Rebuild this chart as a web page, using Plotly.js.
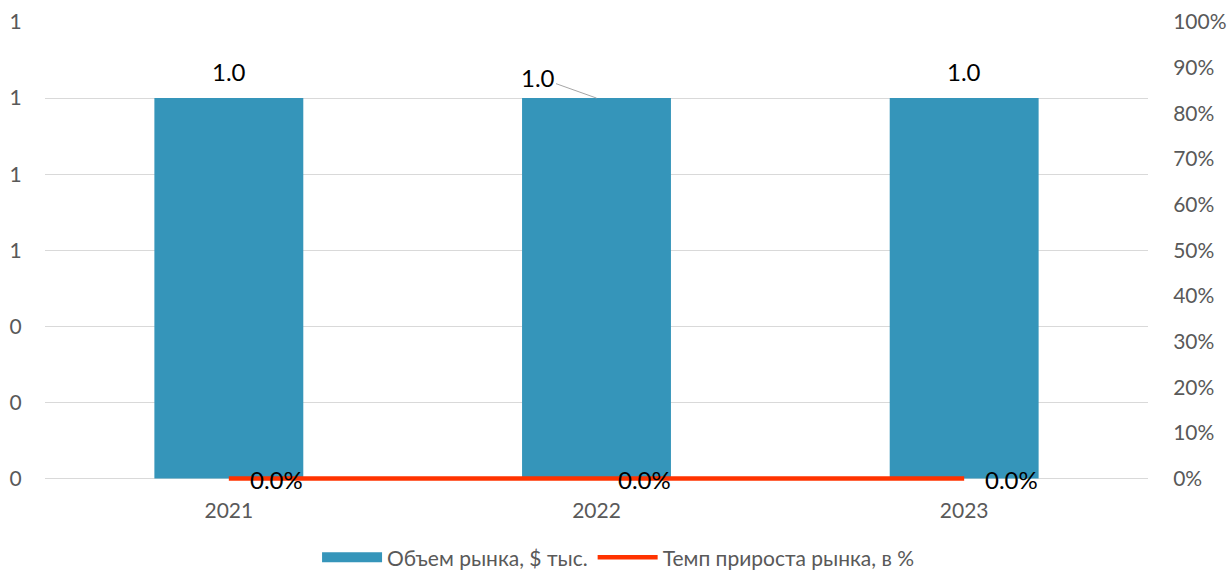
<!DOCTYPE html>
<html>
<head>
<meta charset="utf-8">
<script src="https://cdn.plot.ly/plotly-3.0.1.min.js"></script>
<style>html,body{margin:0;padding:0;background:#fff;}#chart{width:1227px;height:574px;}</style>
</head>
<body>
<div id="chart"></div>
<script>
const years = [2021, 2022, 2023];
const marketVolume = [1.0, 1.0, 1.0];
const growthRate = [0.0, 0.0, 0.0];
const leftTickVals = [0, 0.2, 0.4, 0.6, 0.8, 1.0, 1.2];
const leftTickText = ['0', '0', '0', '1', '1', '1', '1'];
const seriesNames = ['Объем рынка, $ тыс.', 'Темп прироста рынка, в %'];
const barColor = '#3595BA';
const lineColor = '#FF3300';

const font = 'Lato, sans-serif';
const tickFont = {family: font, size: 21, color: '#595959'};
const labelFont = {family: font, size: 24, color: '#000'};

const barTrace = {
  type: 'bar',
  x: years,
  y: marketVolume,
  name: seriesNames[0],
  marker: {color: barColor},
  width: 0.405,
  textposition: 'none',
  showlegend: false,
  legendgroup: 'vol'
};

// legend proxy for the bar series (wide rectangular swatch)
const barLegend = {
  type: 'scatter',
  mode: 'lines',
  x: [null],
  y: [null],
  name: seriesNames[0],
  line: {color: barColor, width: 12},
  legendgroup: 'vol',
  hoverinfo: 'skip'
};

const lineTrace = {
  type: 'scatter',
  mode: 'lines',
  x: years,
  y: growthRate,
  yaxis: 'y2',
  name: seriesNames[1],
  line: {color: lineColor, width: 4.5}
};

// bar value labels (middle one has a leader line)
const barLabels = years.map((yr, i) => {
  const a = {
    x: yr, y: marketVolume[i], xref: 'x', yref: 'y',
    text: marketVolume[i].toFixed(1),
    font: labelFont
  };
  if (i === 1) {
    Object.assign(a, {showarrow: true, arrowhead: 0, arrowwidth: 1, arrowcolor: '#A6A6A6',
                      ax: -59, ay: -21, standoff: 0});
  } else {
    Object.assign(a, {showarrow: false, yanchor: 'middle', yshift: 27});
  }
  return a;
});

// growth rate labels
const rateLabels = years.map((yr, i) => ({
  x: yr, y: growthRate[i], xref: 'x', yref: 'y2',
  text: (growthRate[i] * 100).toFixed(1) + '%',
  showarrow: false, xanchor: 'left', yanchor: 'middle', xshift: 19, yshift: -1,
  font: labelFont
}));

const layout = {
  width: 1227,
  height: 574,
  margin: {l: 45, r: 79, t: 22, b: 91.44, autoexpand: false},
  paper_bgcolor: '#fff',
  plot_bgcolor: '#fff',
  font: {family: font, size: 21, color: '#595959'},
  showlegend: true,
  legend: {orientation: 'h', x: 0.52, xanchor: 'center', y: -0.162, yanchor: 'middle',
           font: {family: font, size: 21, color: '#595959'}, traceorder: 'normal',
           itemwidth: 60},
  xaxis: {
    type: 'linear',
    range: [2020.5, 2023.5],
    tickvals: years,
    ticktext: years.map(String),
    showgrid: false,
    zeroline: false,
    showline: false,
    ticks: 'outside', ticklen: 9, tickcolor: 'rgba(0,0,0,0)',
    tickfont: tickFont
  },
  yaxis: {
    range: [-0.012, 1.2],
    tickvals: leftTickVals,
    ticktext: leftTickText,
    showgrid: true,
    gridcolor: '#D9D9D9',
    gridwidth: 1,
    zeroline: true,
    zerolinecolor: '#D9D9D9',
    zerolinewidth: 1,
    showline: false,
    ticks: 'outside', ticklen: 18, tickcolor: 'rgba(0,0,0,0)',
    tickfont: tickFont
  },
  yaxis2: {
    overlaying: 'y',
    side: 'right',
    range: [-0.01, 1],
    tick0: 0,
    dtick: 0.1,
    tickformat: '.0%',
    showgrid: false,
    zeroline: false,
    showline: false,
    ticks: 'outside', ticklen: 20, tickcolor: 'rgba(0,0,0,0)',
    tickfont: tickFont
  },
  annotations: barLabels.concat(rateLabels)
};

Plotly.newPlot('chart', [barTrace, barLegend, lineTrace], layout, {displayModeBar: false, staticPlot: true});
</script>
</body>
</html>
